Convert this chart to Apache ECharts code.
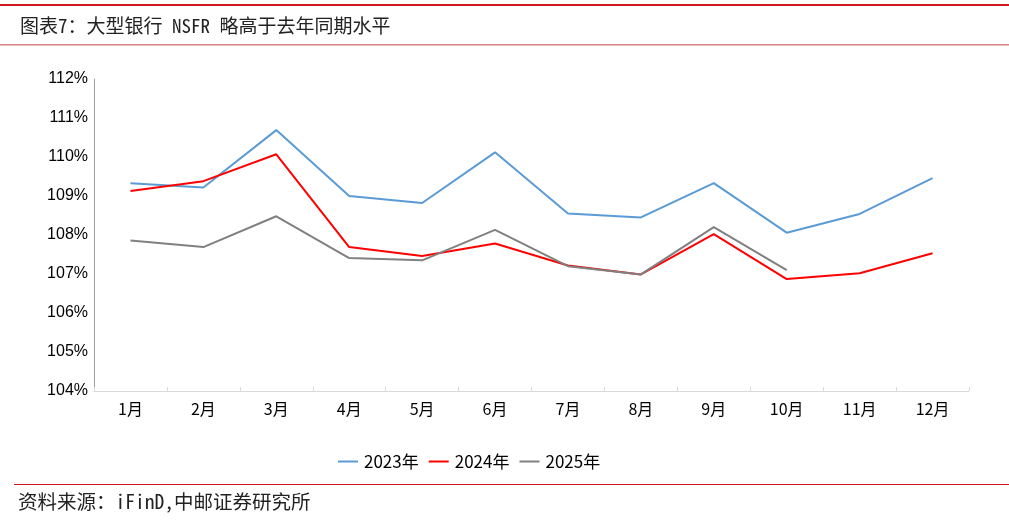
<!DOCTYPE html>
<html><head><meta charset="utf-8">
<script src="https://cdn.jsdelivr.net/npm/echarts@6/dist/echarts.min.js"></script>
<style>html,body{margin:0;padding:0;background:#fff;}#c{width:1009px;height:520px;}</style>
</head><body><div id="c"></div>
<script>
const months = ['1月','2月','3月','4月','5月','6月','7月','8月','9月','10月','11月','12月'];
const y2023 = [109.33,109.22,110.69,109.00,108.82,110.12,108.55,108.45,109.33,108.06,108.54,109.46];
const y2024 = [109.13,109.38,110.07,107.69,107.46,107.78,107.22,106.99,108.02,106.87,107.02,107.53];
const y2025 = [107.86,107.69,108.48,107.41,107.35,108.13,107.20,106.99,108.20,107.10];
const seriesNames = ['2023年','2024年','2025年'];
const colors = ['#5b9bd5','#ff0000','#808080'];
const titleText = '图表7：大型银行 NSFR 略高于去年同期水平';
const sourceText = '资料来源：iFinD,中邮证券研究所';

const chart = echarts.init(document.getElementById('c'));
const mk = (name, data, color) => ({
  name, type: 'line', data, symbol: 'none', smooth: false,
  lineStyle: { color, width: 2 }, itemStyle: { color }
});
const mono = '"Noto Sans Mono CJK SC", "Noto Sans CJK SC", monospace';
chart.setOption({
  animation: false,
  color: colors,
  graphic: [
    { type: 'rect', shape: { x: 0, y: 4, width: 1009, height: 2 }, style: { fill: '#d0171e' } },
    { type: 'text', left: 20, top: 16, style: { text: titleText, font: '19px ' + mono, fill: '#222' } },
    { type: 'rect', shape: { x: 0, y: 44, width: 1009, height: 1.5 }, style: { fill: '#d98080' } },
    { type: 'rect', shape: { x: 14, y: 484, width: 995, height: 1 }, style: { fill: '#d0171e' } },
    { type: 'text', left: 18, top: 492, style: { text: sourceText, font: '19.5px ' + mono, fill: '#222' } }
  ],
  legend: {
    data: seriesNames, bottom: 45, left: 333,
    icon: 'path://M0,0 L20,0 L20,2 L0,2 Z', itemWidth: 22, itemHeight: 2, itemGap: 10,
    textStyle: { fontSize: 17, color: '#000', fontFamily: '"Noto Sans CJK SC", sans-serif' }
  },
  grid: { left: 94, right: 40, top: 79, bottom: 129, containLabel: false },
  xAxis: {
    type: 'category', data: months, boundaryGap: true,
    axisLine: { lineStyle: { color: '#d9d9d9', width: 1 } },
    axisTick: { show: true, length: 4, inside: true, lineStyle: { color: '#d9d9d9' } },
    axisLabel: { color: '#000', fontSize: 16, margin: 10, fontFamily: '"Noto Sans CJK SC", sans-serif' }
  },
  yAxis: {
    type: 'value', min: 104, max: 112, interval: 1,
    axisLine: { show: true, lineStyle: { color: '#a0a0a0', width: 1 } },
    axisTick: { show: false },
    splitLine: { show: false },
    axisLabel: { color: '#000', fontSize: 16, margin: 6, formatter: v => v + '%', fontFamily: 'Arial, "Liberation Sans", sans-serif' }
  },
  series: [mk(seriesNames[0], y2023, colors[0]), mk(seriesNames[1], y2024, colors[1]), mk(seriesNames[2], y2025, colors[2])]
});
</script></body></html>
